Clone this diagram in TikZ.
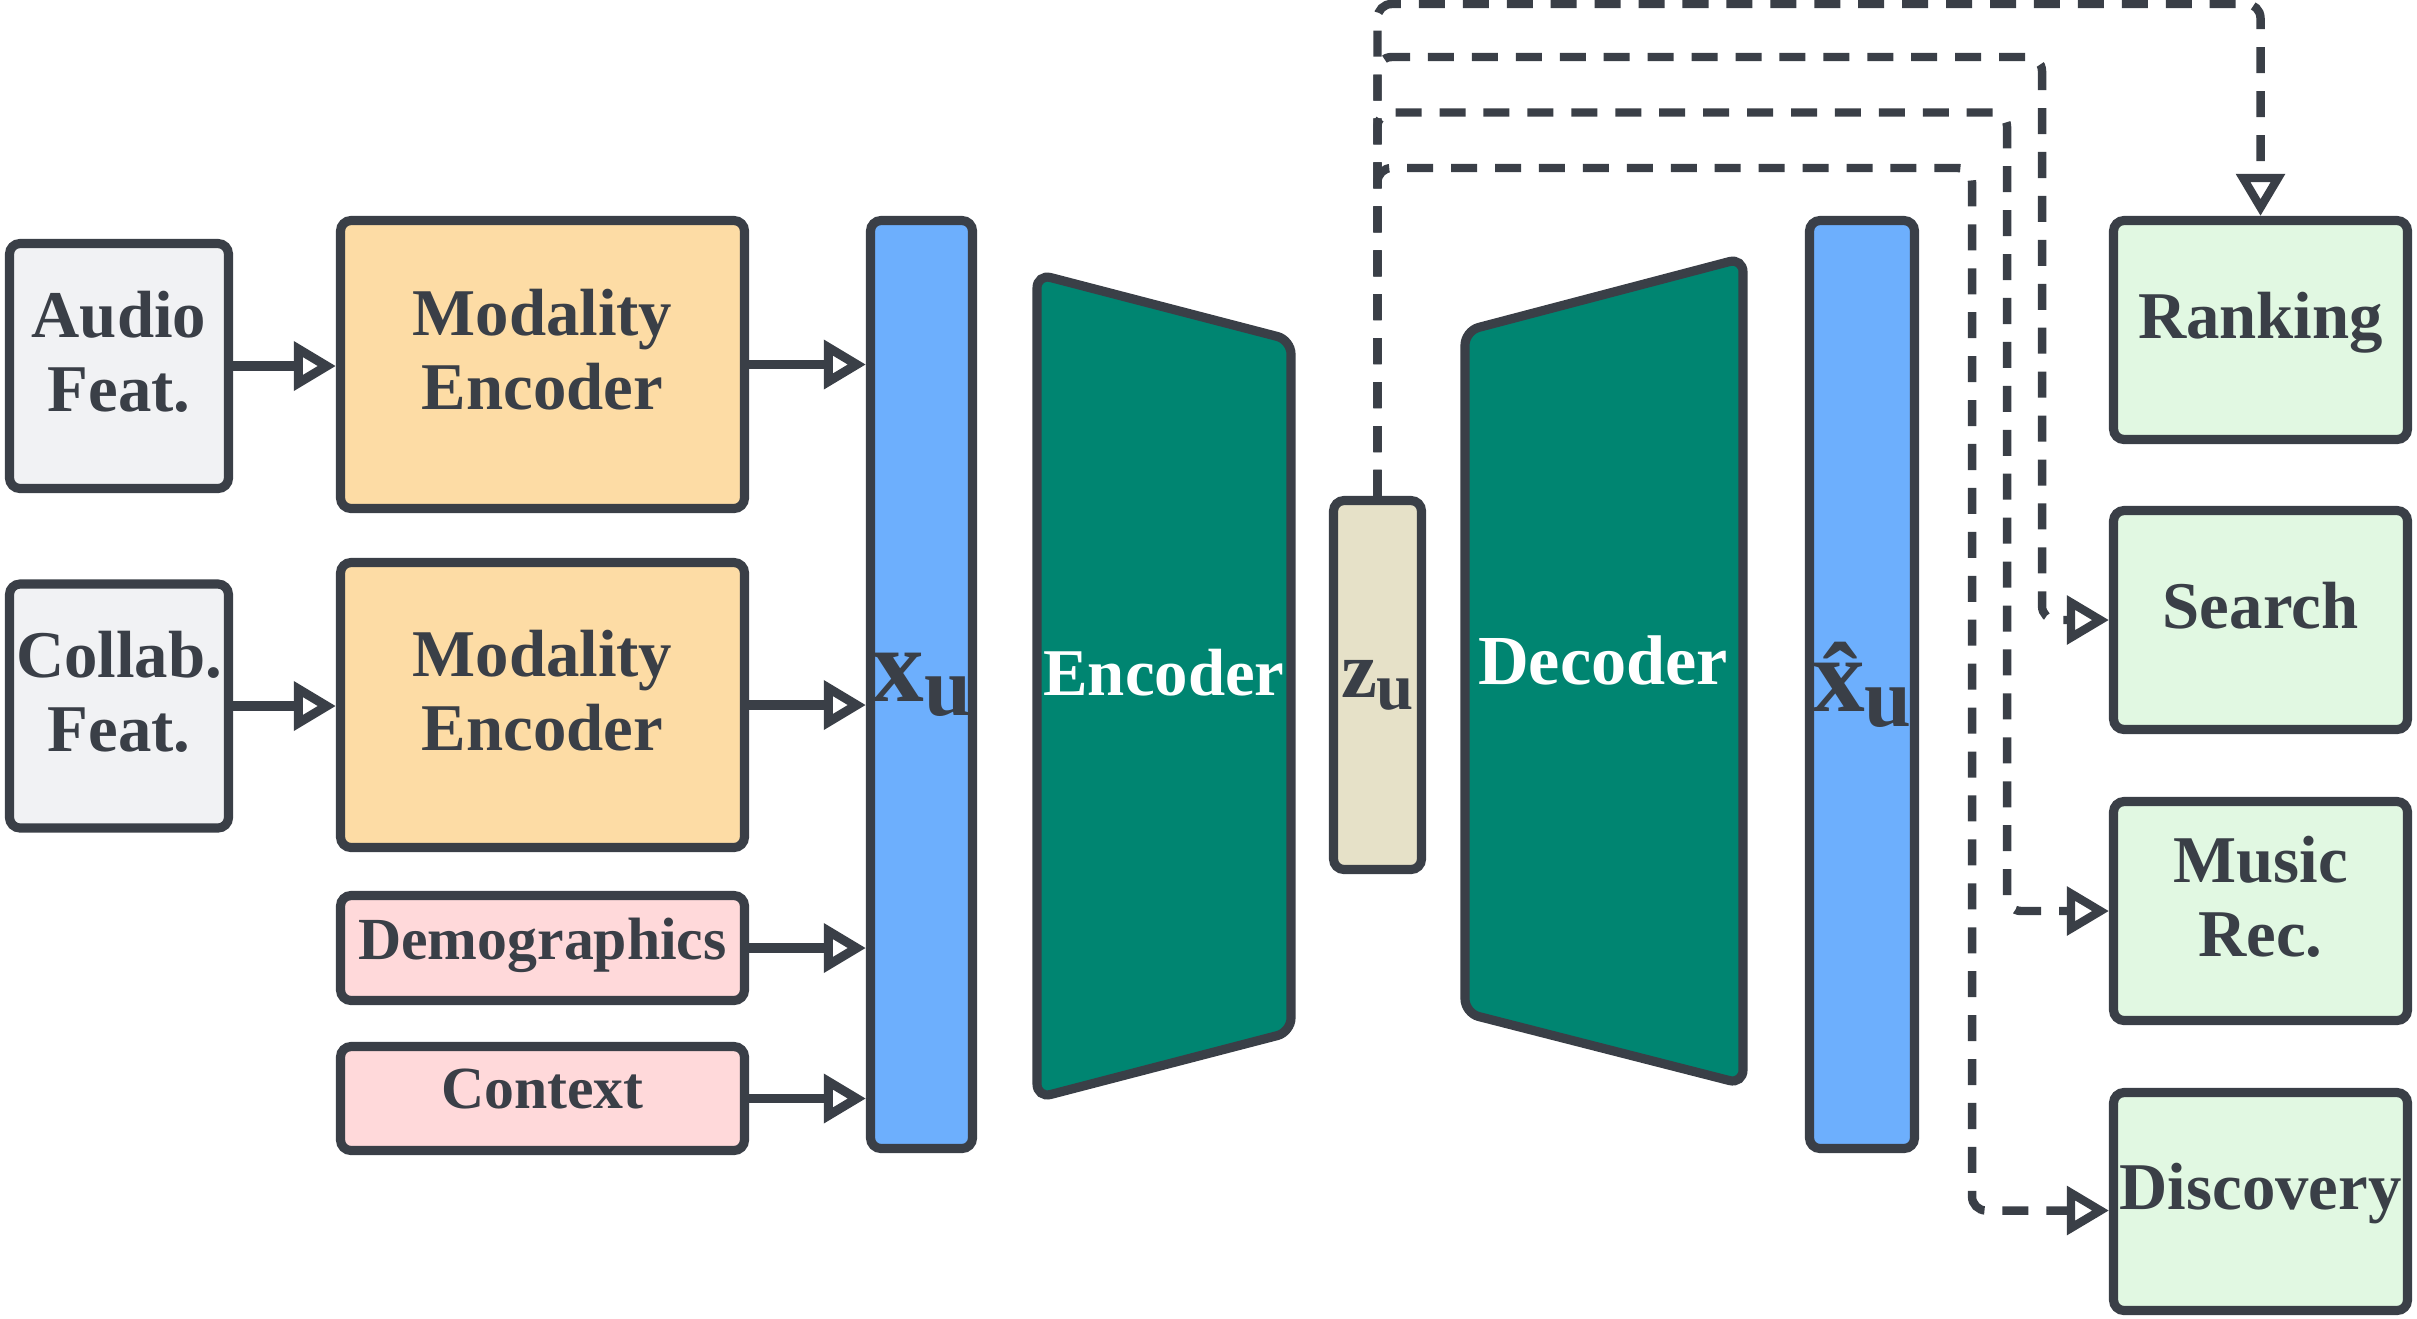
\documentclass[tikz,border=0pt]{standalone}
\usepackage{fontspec}
\setmainfont{Liberation Serif}
\usepackage{tikz}
\usetikzlibrary{arrows.meta,positioning,calc}
\definecolor{ink}{HTML}{3A3F47}
\definecolor{featfill}{HTML}{F1F2F4}
\definecolor{modfill}{HTML}{FDDCA5}
\definecolor{sidefill}{HTML}{FFD9DA}
\definecolor{vecfill}{HTML}{6DAFFD}
\definecolor{netfill}{HTML}{008571}
\definecolor{latfill}{HTML}{E6E1C8}
\definecolor{taskfill}{HTML}{E1F8E2}

\begin{document}
\begin{tikzpicture}[
  box/.style={draw=ink,line width=2.6pt,rounded corners=3pt,align=center,text=ink,inner sep=0pt,font=\bfseries\fontsize{19}{21}\selectfont},
  lbl/.style={box,text depth=8.5pt},
  small/.style={font=\bfseries\fontsize{17}{20}\selectfont,text depth=5.5pt},
  net/.style={draw=ink,fill=netfill,line width=2.6pt,rounded corners=4pt},
  flow/.style={draw=ink,line width=2.6pt,-{Triangle[open,length=12pt,width=13.5pt]}},
  tap/.style={flow,line width=2.4pt,dash pattern=on 7.4pt off 5.1pt,rounded corners=4pt}]
  \useasboundingbox (0,0) rectangle (24.17,-13.18);

  \node[lbl,fill=featfill,minimum width=2.19cm,minimum height=2.45cm] (audio) at (1.19,-3.66) {Audio\\Feat.};
  \node[lbl,fill=featfill,minimum width=2.19cm,minimum height=2.44cm] (collab) at (1.19,-7.06) {Collab.\\Feat.};
  \node[lbl,fill=modfill,minimum width=4.04cm,minimum height=2.88cm] (mod1) at (5.425,-3.645) {Modality\\Encoder};
  \node[lbl,fill=modfill,minimum width=4.04cm,minimum height=2.85cm] (mod2) at (5.425,-7.05) {Modality\\Encoder};
  \node[lbl,small,fill=sidefill,minimum width=4.04cm,minimum height=1.05cm] (demo) at (5.425,-9.48) {Demographics};
  \node[lbl,small,fill=sidefill,minimum width=4.04cm,minimum height=1.04cm] (ctx) at (5.425,-10.985) {Context};

  \node[box,fill=vecfill,minimum width=1.02cm,minimum height=9.28cm] (xu) at (9.215,-6.845) {{\fontsize{30}{30}\selectfont x}\raisebox{-4pt}{\fontsize{24}{24}\selectfont u}};
  \draw[net] (10.37,-2.74) -- (12.91,-3.40) -- (12.91,-10.32) -- (10.37,-10.98) -- cycle;
  \node[anchor=base,text=white,font=\bfseries\fontsize{19}{21}\selectfont] (enc) at (11.64,-6.95) {Encoder};
  \node[box,fill=latfill,minimum width=0.88cm,minimum height=3.69cm] (zu) at (13.775,-6.85) {{\fontsize{23}{23}\selectfont z}\raisebox{-3.5pt}{\fontsize{19}{19}\selectfont u}};
  \draw[net] (14.65,-3.31) -- (17.43,-2.58) -- (17.43,-10.84) -- (14.65,-10.13) -- cycle;
  \node[anchor=base,text=white,font=\bfseries\fontsize{20}{22}\selectfont] (dec) at (16.03,-6.84) {Decoder};
  \node[box,fill=vecfill,minimum width=1.05cm,minimum height=9.28cm] (xhat) at (18.62,-6.845) {{\fontsize{30}{30}\selectfont \^{x}}\raisebox{-4pt}{\fontsize{24}{24}\selectfont u}};

  \node[lbl,fill=taskfill,minimum width=2.94cm,minimum height=2.19cm] (rank) at (22.605,-3.30) {Ranking};
  \node[lbl,fill=taskfill,minimum width=2.94cm,minimum height=2.19cm] (search) at (22.605,-6.20) {Search};
  \node[lbl,fill=taskfill,minimum width=2.94cm,minimum height=2.19cm] (music) at (22.605,-9.11) {Music\\Rec.};
  \node[lbl,fill=taskfill,minimum width=2.94cm,minimum height=2.18cm] (disc) at (22.605,-12.015) {Discovery};

  \foreach \a/\b in {audio/mod1,mod1/xu,collab/mod2,mod2/xu,demo/xu,ctx/xu}
    \draw[flow] (\a.east) -- (\a.east -| \b.west);

  \coordinate (lane1) at (22.605,-0.04);
  \coordinate (lane2) at (20.42,-0.57);
  \coordinate (lane3) at (20.07,-1.125);
  \coordinate (lane4) at (19.72,-1.68);
  \draw[tap] (zu.north) |- (lane1) -- (rank.north);
  \draw[tap] (zu.north) |- (lane2) |- (search.west);
  \draw[tap] (zu.north) |- (lane3) |- (music.west);
  \draw[tap] (zu.north) |- (lane4) |- ([yshift=-0.09cm]disc.west);
\end{tikzpicture}
\end{document}
